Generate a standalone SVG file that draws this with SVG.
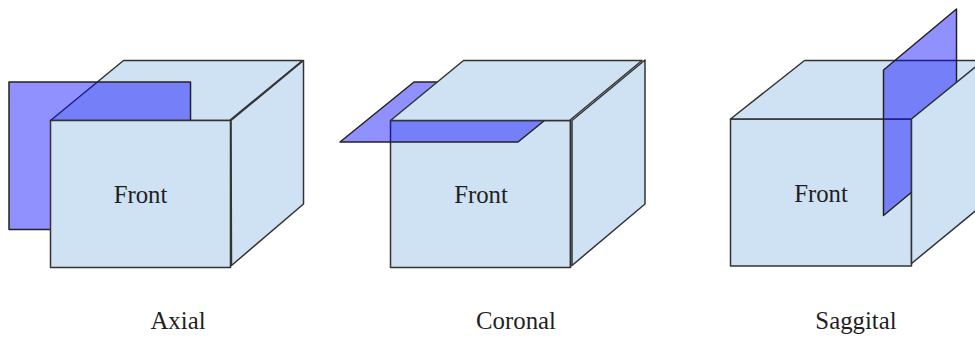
<svg xmlns="http://www.w3.org/2000/svg" width="975" height="337" viewBox="0 0 975 337">
<style>
.face{fill:#cfe2f3;stroke:#333;stroke-width:1.5;stroke-linejoin:round}
.plane{fill:#00f;fill-opacity:.435;stroke:#222;stroke-width:1.5;stroke-linejoin:round}
text{font-family:"Liberation Serif","Times New Roman",serif;font-size:24.8px;fill:#1f1f1f;text-anchor:middle}
</style>
<rect width="975" height="337" fill="#fff"/>
<g id="axial">
<polygon class="face" points="50.5,120.5 123.5,60.5 302.5,60.5 229.5,120.5"/>
<rect class="plane" x="9" y="82" width="181.500" height="147.500"/>
<polygon class="face" points="231,120.500 303.500,60.500 303.500,204 231.500,265.500"/>
<rect class="face" x="50.500" y="120.500" width="180" height="147"/>
<text x="140.500" y="203">Front</text>
<text x="178" y="329">Axial</text>
</g>
<g id="coronal">
<rect class="face" x="390.500" y="120.500" width="180" height="147"/>
<polygon class="plane" points="340,142 414,82 592,82 518,142"/>
<polygon class="face" points="390.500,120.500 463.500,60.500 642,60.500 569.500,120.500"/>
<polygon class="face" points="572,120.500 645,60 645,204 572,265.500"/>
<line x1="570.500" y1="120.500" x2="570.500" y2="267.500" stroke="#333" stroke-width="1.500"/>
<text x="481" y="203">Front</text>
<text x="516" y="329">Coronal</text>
</g>
<g id="saggital">
<rect class="face" x="730.500" y="119" width="181" height="147"/>
<polygon class="face" points="730.500,119 804.500,60.500 985,60.500 911.500,119"/>
<polygon class="plane" points="883.500,70 956.500,9 956.500,155 883.500,215.500"/>
<polygon class="face" points="911.500,119 985,59 985,203 911.500,263.500"/>
<text x="821" y="202">Front</text>
<text x="856" y="329">Saggital</text>
</g>
</svg>
